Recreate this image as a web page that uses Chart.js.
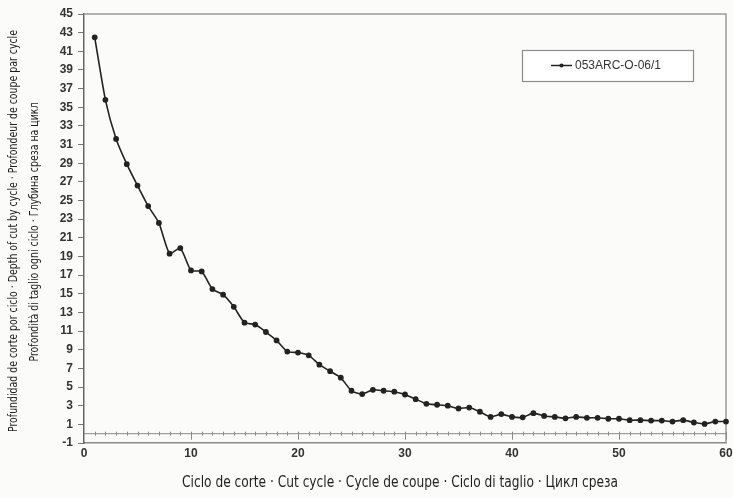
<!DOCTYPE html>
<html>
<head>
<meta charset="utf-8">
<script src="https://cdn.jsdelivr.net/npm/chart.js@4/dist/chart.umd.min.js"></script>
<style>
  html, body { margin: 0; padding: 0; background: #fbfbfa; }
  canvas { display: block; }
</style>
</head>
<body>
<canvas id="chart" width="733" height="498"></canvas>
<script>
// values
const seriesName = "053ARC-O-06/1";
const cycles = [
  1, 2, 3, 4, 5, 6, 7, 8, 9, 10,
  11, 12, 13, 14, 15, 16, 17, 18, 19, 20,
  21, 22, 23, 24, 25, 26, 27, 28, 29, 30,
  31, 32, 33, 34, 35, 36, 37, 38, 39, 40,
  41, 42, 43, 44, 45, 46, 47, 48, 49, 50,
  51, 52, 53, 54, 55, 56, 57, 58, 59, 60
];
const depth = [
  42.5, 35.8, 31.6, 28.9, 26.6, 24.4, 22.6, 19.3, 19.9, 17.5,
  17.4, 15.5, 14.9, 13.6, 11.9, 11.7, 10.9, 10.0, 8.8, 8.7,
  8.4, 7.4, 6.7, 6.0, 4.6, 4.25, 4.7, 4.6, 4.5, 4.2,
  3.7, 3.2, 3.1, 3.0, 2.7, 2.8, 2.35, 1.8, 2.1, 1.8,
  1.75, 2.2, 1.9, 1.8, 1.65, 1.8, 1.7, 1.7, 1.6, 1.6,
  1.45, 1.45, 1.4, 1.4, 1.3, 1.45, 1.2, 1.05, 1.3, 1.3
];
const yTitleLines = [
  "Profundidad de corte por ciclo · Depth of cut by cycle · Profondeur de coupe par cycle",
  "Profondità di taglio ogni ciclo · Глубина среза на цикл"
];
const xTitle = "Ciclo de corte · Cut cycle · Cycle de coupe · Ciclo di taglio · Цикл среза";

const narrowFont = "'Liberation Sans Narrow', 'DejaVu Sans Condensed', 'Liberation Sans', sans-serif";

// draw text squeezed to a given length (scan uses a condensed face)
function fitText(ctx, text, cx, cy, len, font, rotate) {
  ctx.save();
  ctx.font = font;
  const w = ctx.measureText(text).width;
  ctx.translate(cx, cy);
  if (rotate) ctx.rotate(-Math.PI / 2);
  ctx.scale(len / w, 1);
  ctx.textAlign = "center";
  ctx.textBaseline = "middle";
  ctx.fillStyle = "#1e1e1e";
  ctx.fillText(text, 0, 0);
  ctx.restore();
}

const decorPlugin = {
  id: "decor",
  beforeDatasetsDraw(chart) {
    const { ctx, chartArea: a, scales } = chart;
    ctx.save();
    // frame top / right
    ctx.strokeStyle = "#9a9a9a";
    ctx.lineWidth = 1.5;
    ctx.beginPath();
    ctx.moveTo(a.left, a.top);
    ctx.lineTo(a.right, a.top);
    ctx.lineTo(a.right, a.bottom);
    ctx.stroke();
    // x axis line at zero with small ticks
    const y0 = scales.y.getPixelForValue(0);
    ctx.strokeStyle = "#8a8a8a";
    ctx.lineWidth = 1;
    ctx.beginPath();
    ctx.moveTo(a.left, y0);
    ctx.lineTo(a.right, y0);
    for (let i = 1; i <= 60; i++) {
      const x = Math.round(scales.x.getPixelForValue(i)) + 0.5;
      if (i % 10 === 0) {
        ctx.moveTo(x, y0 - 2);
        ctx.lineTo(x, y0 + 6);
      } else {
        ctx.moveTo(x, y0 - 2);
        ctx.lineTo(x, y0 + 2);
      }
    }
    ctx.stroke();
    ctx.restore();
  },
  afterDraw(chart) {
    const { ctx } = chart;
    // axis titles
    fitText(ctx, yTitleLines[0], 14, 231, 402, "13px " + narrowFont, true);
    fitText(ctx, yTitleLines[1], 35, 232, 259, "13px " + narrowFont, true);
    fitText(ctx, xTitle, 400, 483, 436, "16px " + narrowFont, false);

    // legend box
    ctx.save();
    ctx.fillStyle = "#ffffff";
    ctx.fillRect(522, 50, 171, 31);
    ctx.strokeStyle = "#8c8c8c";
    ctx.lineWidth = 1.2;
    ctx.strokeRect(522.5, 50.5, 171, 31);
    ctx.strokeStyle = "#222";
    ctx.lineWidth = 1.5;
    ctx.beginPath();
    ctx.moveTo(551, 65.5);
    ctx.lineTo(572, 65.5);
    ctx.stroke();
    ctx.fillStyle = "#222";
    ctx.beginPath();
    ctx.arc(561.5, 65.5, 2.1, 0, Math.PI * 2);
    ctx.fill();
    ctx.font = "12px 'Liberation Sans', Arial, sans-serif";
    ctx.fillStyle = "#333";
    ctx.textBaseline = "middle";
    ctx.fillText(chart.data.datasets[0].label, 575, 66);
    ctx.restore();
  }
};

const tickFont = { family: "'Liberation Sans', Arial, sans-serif", size: 12, weight: "bold" };

new Chart(document.getElementById("chart"), {
  type: "line",
  data: {
    datasets: [{
      label: seriesName,
      data: cycles.map((c, i) => ({ x: c, y: depth[i] })),
      borderColor: "#222",
      backgroundColor: "#222",
      borderWidth: 1.6,
      pointRadius: 2.1,
      pointHoverRadius: 2.1,
      tension: 0.2,
      clip: false
    }]
  },
  options: {
    responsive: false,
    animation: false,
    devicePixelRatio: 1,
    layout: { padding: { top: 14, right: 7, bottom: 0, left: 0 } },
    plugins: { legend: { display: false }, tooltip: { enabled: false } },
    scales: {
      x: {
        type: "linear",
        min: 0,
        max: 60,
        ticks: { stepSize: 10, autoSkip: false, maxRotation: 0, padding: 3, color: "#333", font: tickFont },
        grid: { drawOnChartArea: false, drawTicks: false },
        border: { display: true, color: "#8a8a8a", width: 1.5 },
        afterFit(s) { s.height = 55; s.paddingLeft = 0; s.paddingRight = 0; }
      },
      y: {
        min: -1,
        max: 45,
        ticks: { stepSize: 2, autoSkip: false, padding: 5, color: "#333", font: tickFont },
        grid: { drawOnChartArea: false, drawTicks: true, tickLength: 6, color: "#777" },
        border: { display: true, color: "#666", width: 1.5 },
        afterFit(s) { s.width = 84; s.paddingTop = 0; s.paddingBottom = 0; }
      }
    }
  },
  plugins: [decorPlugin]
});
</script>
</body>
</html>
